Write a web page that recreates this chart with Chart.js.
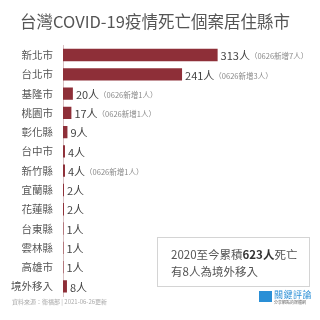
<!DOCTYPE html>
<html>
<head>
<meta charset="utf-8">
<script src="https://cdn.jsdelivr.net/npm/chart.js@4"></script>
<style>
  html, body { margin: 0; padding: 0; background: #fff; }
  #wrap { position: relative; width: 320px; height: 320px; font-family: "Noto Sans CJK TC", "Noto Sans", sans-serif; }
  #chart { position: absolute; left: 0; top: 0; }
  .note {
    position: absolute; left: 157px; top: 237px; width: 153px; height: 50px;
    box-sizing: border-box; border: 1px solid #d4d4d4; padding: 8px 0 0 13px;
    font-size: 11.5px; line-height: 17px; color: #555; white-space: nowrap;
  }
  .note b { color: #333; }
  .source { position: absolute; left: 12px; top: 297px; font-size: 6px; color: #aaa; }
  .logo { position: absolute; left: 259px; top: 290px; }
  .logo .icon { position: absolute; left: 0; top: 1px; width: 13px; height: 11px; background: #2a8fd6; }
  .logo .name { position: absolute; left: 15px; top: -2px; font-size: 9px; color: #2a8fd6; white-space: nowrap; letter-spacing: 0.5px; }
  .logo .tag { position: absolute; left: 15px; top: 9px; font-size: 4px; color: #666; white-space: nowrap; }
</style>
</head>
<body>
<div id="wrap">
  <canvas id="chart" width="320" height="320"></canvas>
  <div class="note">2020至今累積<b>623人</b>死亡<br>有8人為境外移入</div>
  <div class="source">資料來源：衛福部 | 2021-06-26更新</div>
  <div class="logo"><div class="icon"></div><div class="name">關鍵評論</div><div class="tag">分享觀點的媒體網</div></div>
</div>
<script>
  const regions = ["新北市", "台北市", "基隆市", "桃園市", "彰化縣", "台中市", "新竹縣", "宜蘭縣", "花蓮縣", "台東縣", "雲林縣", "高雄市", "境外移入"];
  const deaths = [313, 241, 20, 17, 9, 4, 4, 2, 2, 1, 1, 1, 8];
  const newToday = [7, 3, 1, 1, 0, 0, 1, 0, 0, 0, 0, 0, 0];

  // value label + small "0626新增" note after each bar
  const barLabels = {
    id: "barLabels",
    afterDatasetsDraw(chart) {
      const ctx = chart.ctx;
      const meta = chart.getDatasetMeta(0);
      ctx.save();
      ctx.textBaseline = "middle";
      meta.data.forEach((bar, i) => {
        let x = bar.x + 3;
        const y = bar.y + 1;
        const main = deaths[i] + "人";
        ctx.font = "11px 'Noto Sans CJK TC'";
        ctx.fillStyle = "#444";
        ctx.fillText(main, x, y);
        x += ctx.measureText(main).width;
        if (newToday[i] > 0) {
          ctx.font = "7.5px 'Noto Sans CJK TC'";
          ctx.fillStyle = "#888";
          ctx.fillText("（0626新增" + newToday[i] + "人）", x, y + 0.5);
        }
      });
      ctx.restore();
    }
  };

  new Chart(document.getElementById("chart"), {
    type: "bar",
    data: {
      labels: regions,
      datasets: [{
        data: deaths,
        backgroundColor: "#8e2f38",
        barPercentage: 0.64,
        categoryPercentage: 1
      }]
    },
    options: {
      indexAxis: "y",
      responsive: false,
      animation: false,
      layout: { padding: { top: 0, right: 10, bottom: 24, left: 0 } },
      scales: {
        x: { display: false, min: 0, max: 500 },
        y: {
          afterFit(scale) { scale.width = 63; },
          grid: { display: false, drawTicks: false },
          border: { display: true, color: "#d9c2c4", width: 1 },
          ticks: { padding: 10, color: "#555", font: { family: "Noto Sans CJK TC", size: 10.5 } }
        }
      },
      plugins: {
        legend: { display: false },
        tooltip: { enabled: false },
        title: {
          display: true,
          text: "台灣COVID-19疫情死亡個案居住縣市",
          color: "#555",
          font: { family: "Noto Sans CJK TC", size: 16.5, weight: "normal" },
          padding: { top: 12, bottom: 13.6 }
        }
      }
    },
    plugins: [barLabels]
  });
</script>
</body>
</html>
